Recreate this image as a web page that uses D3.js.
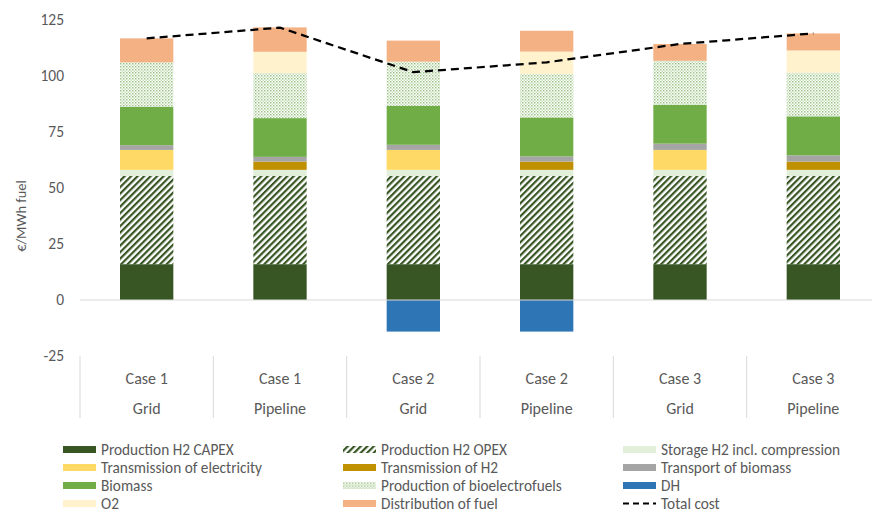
<!DOCTYPE html>
<html>
<head>
<meta charset="utf-8">
<script src="https://cdn.jsdelivr.net/npm/d3@7"></script>
<style>
  body { margin: 0; background: #fff; }
  text { font-family: Carlito, Calibri, Lato, sans-serif; fill: #595959; }
</style>
</head>
<body>
<div id="chart"></div>
<script>
// categories (two-level x axis)
var cases = ["Case 1", "Case 1", "Case 2", "Case 2", "Case 3", "Case 3"];
var routes = ["Grid", "Pipeline", "Grid", "Pipeline", "Grid", "Pipeline"];

// cost components, €/MWh fuel
var capexH2 = [16, 16, 16, 16, 16, 16];
var opexH2 = [39.4, 39.4, 39.4, 39.4, 39.4, 39.4];
var storageH2 = [2.7, 2.7, 2.7, 2.7, 2.7, 2.7];
var transElec = [8.9, 0, 8.9, 0, 8.9, 0];
var transH2 = [0, 3.7, 0, 3.7, 0, 3.7];
var transportBio = [2.1, 2.1, 2.3, 2.3, 2.8, 2.8];
var biomass = [17.2, 17.3, 17.4, 17.4, 17.4, 17.4];
var bioelectro = [19.8, 20.1, 19.7, 19.4, 19.6, 19.5];
var dh = [0, 0, -14.1, -14.1, 0, 0];
var o2 = [0, 9.5, 0, 10.0, 0, 9.9];
var distribution = [10.7, 10.9, 9.4, 9.3, 7.5, 7.6];
var totalCost = [116.8, 121.6, 101.7, 106.1, 114.3, 119.0];

var yTicks = [-25, 0, 25, 50, 75, 100, 125];

var series = [
  { key: "capex", name: "Production H2 CAPEX", values: capexH2, fill: "#375623" },
  { key: "opex", name: "Production H2 OPEX", values: opexH2, fill: "url(#hatch)" },
  { key: "storage", name: "Storage H2 incl. compression", values: storageH2, fill: "#E2EFDA" },
  { key: "telec", name: "Transmission of electricity", values: transElec, fill: "#FFD966" },
  { key: "th2", name: "Transmission of H2", values: transH2, fill: "#BF9000" },
  { key: "tbio", name: "Transport of biomass", values: transportBio, fill: "#A5A5A5" },
  { key: "bio", name: "Biomass", values: biomass, fill: "#70AD47" },
  { key: "bef", name: "Production of bioelectrofuels", values: bioelectro, fill: "url(#dots)" },
  { key: "dh", name: "DH", values: dh, fill: "#2E75B6" },
  { key: "o2", name: "O2", values: o2, fill: "#FFF2CC" },
  { key: "dist", name: "Distribution of fuel", values: distribution, fill: "#F4B183" }
];

var width = 872, height = 512;

var svg = d3.select("#chart")
  .append("svg")
  .attr("width", width)
  .attr("height", height);

// fill patterns
var defs = svg.append("defs");
var hatch = defs.append("pattern")
  .attr("id", "hatch")
  .attr("patternUnits", "userSpaceOnUse")
  .attr("width", 4.6)
  .attr("height", 4.6)
  .attr("patternTransform", "rotate(45)");
hatch.append("rect").attr("width", 4.6).attr("height", 4.6).attr("fill", "#fff");
hatch.append("rect").attr("width", 2.2).attr("height", 4.6).attr("fill", "#375623");

var dots = defs.append("pattern")
  .attr("id", "dots")
  .attr("patternUnits", "userSpaceOnUse")
  .attr("width", 3)
  .attr("height", 3);
dots.append("rect").attr("width", 3).attr("height", 3).attr("fill", "#fff");
dots.append("rect").attr("width", 1.5).attr("height", 1.5).attr("fill", "#9CC487");
dots.append("rect").attr("x", 1.5).attr("y", 1.5).attr("width", 1.5).attr("height", 1.5).attr("fill", "#C9DFBC");

// scales
var idx = d3.range(cases.length);
var x = d3.scaleBand()
  .domain(idx)
  .range([80, 880])
  .paddingInner(0.6)
  .paddingOuter(0.3);

var xBand = d3.scaleBand()
  .domain(idx)
  .range([80, 880]);

var y = d3.scaleLinear()
  .domain([-25, 125])
  .range([356, 20]);

// y axis labels only (no axis line), plain hyphen for negatives
var yAxis = d3.axisLeft(y)
  .tickValues(yTicks)
  .tickFormat(function(d) { return String(d); })
  .tickSize(0)
  .tickPadding(0);

var gy = svg.append("g")
  .attr("transform", "translate(64,0)")
  .call(yAxis);
gy.select(".domain").remove();
gy.selectAll("text")
  .style("font-size", "15.5px")
  .attr("fill", "#595959")
  .attr("font-family", null);

svg.append("text")
  .attr("transform", "translate(21,216) rotate(-90)")
  .attr("text-anchor", "middle")
  .attr("dy", "0.35em")
  .style("font-size", "14.5px")
  .text("€/MWh fuel");

// stacked bars
var table = idx.map(function(i) {
  var row = {};
  series.forEach(function(s) { row[s.key] = s.values[i]; });
  return row;
});

var stack = d3.stack()
  .keys(series.map(function(s) { return s.key; }))
  .offset(d3.stackOffsetDiverging);

var layers = stack(table);

svg.selectAll("g.layer")
  .data(layers)
  .enter()
  .append("g")
  .attr("class", "layer")
  .attr("fill", function(d, i) { return series[i].fill; })
  .selectAll("rect")
  .data(function(d) { return d; })
  .enter()
  .append("rect")
  .attr("x", function(d, i) { return x(i); })
  .attr("width", x.bandwidth())
  .attr("y", function(d) { return y(d[1]); })
  .attr("height", function(d) { return Math.abs(y(d[0]) - y(d[1])); });

// zero line
svg.append("line")
  .attr("x1", 80)
  .attr("x2", 880)
  .attr("y1", y(0))
  .attr("y2", y(0))
  .attr("stroke", "#D9D9D9")
  .attr("stroke-width", 1);

// total cost line
var line = d3.line()
  .x(function(d, i) { return x(i) + x.bandwidth() / 2; })
  .y(function(d) { return y(d); });

svg.append("path")
  .datum(totalCost)
  .attr("d", line)
  .attr("fill", "none")
  .attr("stroke", "#000")
  .attr("stroke-width", 2.25)
  .attr("stroke-dasharray", "8,5");

// category axis: separators and two label rows
var seps = idx.concat([cases.length]);
svg.selectAll("line.sep")
  .data(seps)
  .enter()
  .append("line")
  .attr("class", "sep")
  .attr("x1", function(d) { return d < cases.length ? xBand(d) : 880; })
  .attr("x2", function(d) { return d < cases.length ? xBand(d) : 880; })
  .attr("y1", 356)
  .attr("y2", 418)
  .attr("stroke", "#D9D9D9");

svg.selectAll("text.case")
  .data(cases)
  .enter()
  .append("text")
  .attr("class", "case")
  .attr("x", function(d, i) { return xBand(i) + xBand.bandwidth() / 2; })
  .attr("y", 378)
  .attr("dy", "0.35em")
  .attr("text-anchor", "middle")
  .style("font-size", "16px")
  .text(function(d) { return d; });

svg.selectAll("text.route")
  .data(routes)
  .enter()
  .append("text")
  .attr("class", "route")
  .attr("x", function(d, i) { return xBand(i) + xBand.bandwidth() / 2; })
  .attr("y", 408)
  .attr("dy", "0.35em")
  .attr("text-anchor", "middle")
  .style("font-size", "16px")
  .text(function(d) { return d; });

// legend, 3 columns x 4 rows
var legendItems = series.map(function(s) { return { name: s.name, fill: s.fill, dash: false }; });
legendItems.push({ name: "Total cost", fill: null, dash: true });

var colX = [63, 343, 623];
var rowY = [449.5, 467.5, 485.5, 503.5];

var legend = svg.selectAll("g.legend")
  .data(legendItems)
  .enter()
  .append("g")
  .attr("class", "legend")
  .attr("transform", function(d, i) {
    return "translate(" + colX[i % 3] + "," + rowY[Math.floor(i / 3)] + ")";
  });

legend.filter(function(d) { return !d.dash; })
  .append("rect")
  .attr("x", 0)
  .attr("y", -3.5)
  .attr("width", 33)
  .attr("height", 7)
  .attr("fill", function(d) { return d.fill; });

legend.filter(function(d) { return d.dash; })
  .append("line")
  .attr("x1", 0)
  .attr("x2", 33)
  .attr("y1", 0)
  .attr("y2", 0)
  .attr("stroke", "#000")
  .attr("stroke-width", 2)
  .attr("stroke-dasharray", "6,4");

legend.append("text")
  .attr("x", 38)
  .attr("y", 0)
  .attr("dy", "0.35em")
  .style("font-size", "15.3px")
  .text(function(d) { return d.name; });
</script>
</body>
</html>
